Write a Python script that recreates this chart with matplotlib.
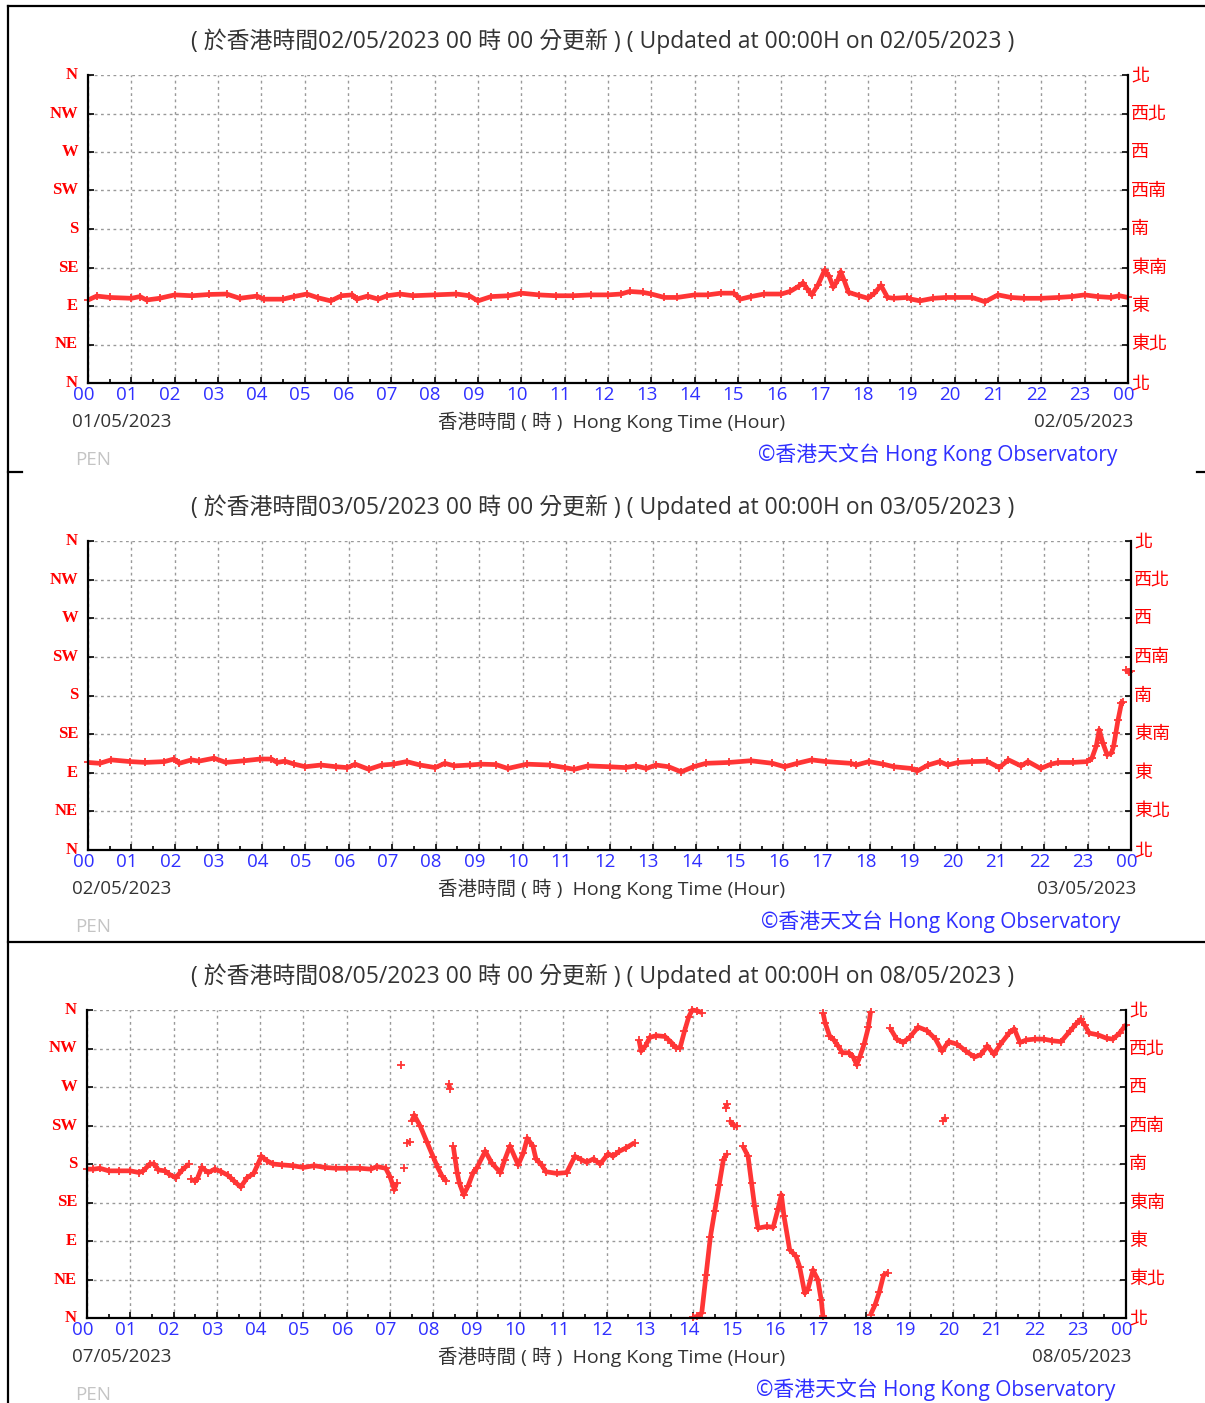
import numpy as np
import matplotlib
matplotlib.use("Agg")
import matplotlib.pyplot as plt
from matplotlib.lines import Line2D

plt.rcParams['font.family'] = ['Open Sans', 'Noto Sans CJK TC', 'DejaVu Sans']

W, H = 1205, 1403
nan = np.nan

# ---- wind direction readings (hour of day, degrees from north); nan breaks the trace
hours_1 = [0.0, 0.2, 0.5, 1.0, 1.2, 1.35, 1.65, 2.0, 2.4, 2.8, 3.2, 3.5, 3.9, 4.05, 4.5,
           4.75, 5.05, 5.3, 5.6, 5.85, 6.1, 6.2, 6.45, 6.7, 6.9, 7.2, 7.5, 8.0, 8.5, 8.8,
           9.0, 9.3, 9.7, 10.0, 10.4, 10.8, 11.2, 11.6, 12.0, 12.3, 12.5, 12.8, 13.0, 13.3,
           13.6, 14.0, 14.3, 14.6, 14.9, 15.05, 15.3, 15.6, 16.0, 16.2, 16.4, 16.5, 16.6,
           16.7, 16.85, 17.0, 17.1, 17.2, 17.3, 17.37, 17.45, 17.55, 17.8, 18.0, 18.15,
           18.3, 18.45, 18.6, 18.9, 19.0, 19.2, 19.5, 19.8, 20.0, 20.4, 20.7, 21.0, 21.3,
           21.6, 22.0, 22.4, 22.7, 23.0, 23.3, 23.6, 23.8, 24.0]
dir_1 = [97, 101.6, 100, 99, 101, 97, 99, 103, 102, 103.5, 104, 99, 101.6, 98, 98,
         101, 104, 99.7, 96, 102, 103, 98, 101.6, 98, 102, 104, 102, 103, 104, 102,
         96, 101, 102, 105, 103, 102, 102, 103, 103, 104, 107, 106, 104, 100,
         100, 103, 103, 105, 105, 98, 101, 104, 104, 107, 113, 117, 110,
         103, 115, 132, 125, 112, 120, 130, 120, 106, 102, 99, 105,
         114, 100, 99, 100, 98, 96, 99, 100, 100, 100, 95, 103, 100,
         99, 99, 100, 101, 103, 101, 100, 102, 100]

hours_2 = [0.0, 0.27, 0.53, 0.97, 1.32, 1.76, 1.98, 2.1, 2.38, 2.55, 2.9, 3.17, 3.6, 3.96,
           4.22, 4.35, 4.53, 4.75, 5.0, 5.36, 5.71, 5.97, 6.15, 6.46, 6.76, 7.03, 7.33,
           7.64, 7.99, 8.21, 8.43, 8.78, 9.04, 9.39, 9.66, 10.1, 10.62, 10.97, 11.19, 11.5,
           12.0, 12.37, 12.6, 12.85, 13.07, 13.36, 13.65, 13.93, 14.22, 14.75, 15.25,
           15.75, 16.03, 16.32, 16.65, 16.98, 17.55, 17.68, 17.97, 18.3, 18.54, 18.95,
           19.08, 19.33, 19.6, 19.78, 20.02, 20.35, 20.68, 20.97, 21.18, 21.47, 21.63,
           21.92, 22.16, 22.33, 22.66, 22.99, 23.1, 23.2, 23.27, 23.35, 23.45, 23.55,
           23.6, 23.65, 23.7, 23.78, 23.82, nan, 23.88, 23.95, 24.0]
dir_2 = [102, 101, 105, 103, 102, 103, 106, 101, 105, 103.5, 107, 102, 104, 106,
         106, 102, 103.5, 100, 97, 99, 97, 96, 100, 94, 99, 100, 103,
         99, 96, 101, 98, 99, 100, 99.5, 95, 100, 99, 96, 94, 98,
         97, 96, 98, 95, 99, 97, 91, 97, 101, 102, 104,
         101, 97, 101, 105, 103, 101, 99, 103, 100, 97, 95,
         92, 99, 103, 99, 102, 103, 103.5, 96, 105, 98, 103,
         95, 100, 102, 102, 103, 107, 121, 140, 125, 111, 113,
         121, 136, 151, 171, 173, nan, 210, 207, 209]

hours_3 = [0.0, 0.15, 0.3, 0.5, 0.75, 1.0, 1.2, 1.3, 1.45, 1.55, 1.65, 1.8, 1.9, 2.05, 2.2, 2.35, nan,
           2.4, 2.5, 2.55, 2.65, 2.8, 2.95, 3.1, 3.25, 3.4, 3.55, 3.7, 3.85, 3.95, 4.03, 4.15,
           4.3, 4.5, 4.75, 5.0, 5.25, 5.5, 5.75, 6.0, 6.3, 6.55, 6.7, 6.9, 7.0, 7.1, 7.15, nan,
           7.25, nan, 7.32, nan, 7.4, 7.45, nan,
           7.5, 7.56, 7.7, 7.85, 8.0, 8.1, 8.2, 8.3, nan,
           8.36, 8.38, nan,
           8.46, 8.5, 8.55, 8.6, 8.7, 8.8, 8.92, 9.0, 9.2, 9.35, 9.55, 9.65, 9.77, 9.96, 10.08,
           10.17, 10.3, 10.37, 10.5, 10.6, 10.85, 11.08, 11.27, 11.42, 11.54, 11.7, 11.85,
           12.04, 12.15, 12.3, 12.46, 12.65, nan,
           12.75, 12.8, 12.9, 13.0, 13.15, 13.35, 13.5, 13.6, 13.7, 13.8, 13.9, 13.98, 14.1, 14.2, nan,
           14.0, 14.1, 14.2, 14.3, 14.4, 14.5, 14.6, 14.7, 14.78, nan,
           14.75, 14.78, nan,
           14.85, 14.95, 15.02, nan,
           15.15, 15.27, 15.35, 15.42, 15.5, 15.7, 15.85, 15.96, 16.04, 16.1, 16.23, 16.38,
           16.46, 16.58, 16.65, 16.77, 16.88, 16.96, 17.0, nan,
           17.0, 17.05, 17.15, 17.25, 17.35, 17.45, 17.6, 17.7, 17.78, 17.85, 17.95, 18.05, 18.1, nan,
           18.1, 18.2, 18.3, 18.4, 18.5, nan,
           18.55, 18.7, 18.85, 19.0, 19.2, 19.4, 19.6, 19.75, 19.9, 20.1, 20.3, 20.5, 20.65,
           20.8, 20.95, 21.1, 21.3, 21.42, 21.55, 21.7, 21.9, 22.1, 22.3, 22.5, 22.7, 22.85,
           22.95, 23.05, 23.15, 23.35, 23.55, 23.7, 23.85, 24.0, nan,
           19.78, 19.83]
dir_3 = [174, 174, 175, 172, 172, 172, 170, 172, 180, 180, 173, 172, 168, 164, 173, 180, nan,
         162, 160, 163, 176, 170, 174, 171, 167, 160, 153, 164, 169, 180, 189, 184,
         180, 179, 178, 176, 178, 176, 175, 175, 175, 174, 177, 175, 165, 150, 158, nan,
         296, nan, 175, nan, 205, 206, nan,
         230, 237, 224, 206, 188, 176, 166, 160, nan,
         273, 268, nan,
         201, 187, 170, 158, 144, 154, 170, 175, 195, 181, 170, 185, 201, 179, 193,
         210, 201, 186, 179, 171, 169, 170, 189, 185, 182, 186, 180,
         192, 189, 195, 199, 205, nan,
         325, 312, 318, 328, 330, 329, 322, 316, 316, 335, 352, 360, 359, 357, nan,
         1, 2, 6, 50, 95, 125, 155, 185, 192, nan,
         245, 250, nan,
         230, 225, 224, nan,
         201, 189, 158, 131, 105, 107, 106, 127, 144, 119, 80, 72,
         60, 29, 33, 56, 45, 21, 2, nan,
         357, 345, 330, 325, 318, 310, 310, 305, 296, 305, 320, 340, 358, nan,
         4, 15, 30, 50, 53, nan,
         339, 326, 322, 328, 340, 336, 326, 312, 323, 320, 312, 305, 308,
         318, 308, 320, 333, 338, 322, 325, 326, 326, 324, 323, 335, 344,
         349, 342, 333, 331, 327, 326, 333, 343, nan,
         230, 234]

dir_ticks = [0, 45, 90, 135, 180, 225, 270, 315, 360]
dir_labels_en = ['N', 'NE', 'E', 'SE', 'S', 'SW', 'W', 'NW', 'N']
dir_labels_zh = ['北', '東北', '東', '東南', '南', '西南', '西', '西北', '北']
hour_labels = ['%02d' % (h % 24) for h in range(25)]

panels = [
    dict(box=(88, 75, 1128, 383), hours=hours_1, dirs=dir_1,
         stamp='02/05/2023', start='01/05/2023', end='02/05/2023'),
    dict(box=(88, 541, 1131, 850), hours=hours_2, dirs=dir_2,
         stamp='03/05/2023', start='02/05/2023', end='03/05/2023'),
    dict(box=(87, 1010, 1126, 1318), hours=hours_3, dirs=dir_3,
         stamp='08/05/2023', start='07/05/2023', end='08/05/2023'),
]

RED = '#ff3535'
BLUE = '#2f2fff'
GREY = '#333333'

fig = plt.figure(figsize=(W / 100, H / 100), dpi=100)


def ftext(x, y, s, **kw):
    fig.text(x / W, 1 - y / H, s, **kw)


def fline(xs, ys, **kw):
    fig.add_artist(Line2D([x / W for x in xs], [1 - y / H for y in ys],
                          transform=fig.transFigure, **kw))


for p in panels:
    x0, y0, x1, y1 = p['box']
    ax = fig.add_axes([x0 / W, 1 - y1 / H, (x1 - x0) / W, (y1 - y0) / H])
    ax.plot(p['hours'], p['dirs'], color=RED, lw=3.4, marker='+', ms=6, mew=1.3,
            solid_capstyle='butt', clip_on=False)
    ax.set_xlim(0, 24)
    ax.set_ylim(0, 360)
    ax.set_xticks(range(25))
    ax.set_xticks(np.arange(0.5, 24, 1), minor=True)
    ax.set_yticks(dir_ticks)
    ax.tick_params(axis='both', which='both', direction='in', labelbottom=False,
                   labelleft=False, right=True, color='black')
    ax.tick_params(which='major', length=4, width=1.2)
    ax.tick_params(which='minor', length=3, width=1.2)
    ax.tick_params(axis='y', which='minor', left=False, right=False)
    ax.grid(True, which='major', color='#999999', linestyle=(0, (2, 2.5)), lw=1)
    ax.spines['top'].set_visible(False)
    for s in ['left', 'bottom', 'right']:
        ax.spines[s].set_linewidth(1.6)

    # direction labels
    for d, en, zh in zip(dir_ticks, dir_labels_en, dir_labels_zh):
        yy = y1 - (y1 - y0) * d / 360
        ftext(x0 - 10, yy, en, color='red', ha='right', va='center', fontsize=12,
              family='Liberation Serif', fontweight='bold')
        ftext(x1 + 3, yy, zh, color='red', ha='left', va='center', fontsize=13,
              family='Noto Sans CJK TC')

    # hour labels
    for h, lab in enumerate(hour_labels):
        xx = x0 + (x1 - x0) * h / 24 - 4.5
        ftext(xx, y1 + 12, lab, color=BLUE, ha='center', va='center', fontsize=13.5)

    title = '( 於香港時間%s 00 時 00 分更新 ) ( Updated at 00:00H on %s )' % (p['stamp'], p['stamp'])
    ftext(603, y0 - 34, title, color=GREY, ha='center', va='center', fontsize=16.5)
    ftext(72, y1 + 39, p['start'], color=GREY, ha='left', va='center', fontsize=13.5)
    ftext(x1 + 5, y1 + 39, p['end'], color=GREY, ha='right', va='center', fontsize=13.5)
    ftext(612, y1 + 39, '香港時間 ( 時 )  Hong Kong Time (Hour)', color=GREY,
          ha='center', va='center', fontsize=14)
    ftext(75, y1 + 77, 'PEN', color='#c4c4c4', ha='left', va='center', fontsize=13.5)
    ftext(x1 - 11, y1 + 72, '©香港天文台 Hong Kong Observatory', color=BLUE,
          ha='right', va='center', fontsize=15)

# frame lines of the page
fline([8, 8], [6, H], color='black', lw=1.6)
fline([8, W], [6, 6], color='black', lw=1.6)
fline([8, 22], [472, 472], color='black', lw=1.6)
fline([1197, W], [472, 472], color='black', lw=1.6)
fline([8, W], [942, 942], color='black', lw=1.6)

fig.savefig('out.png', dpi=100)
